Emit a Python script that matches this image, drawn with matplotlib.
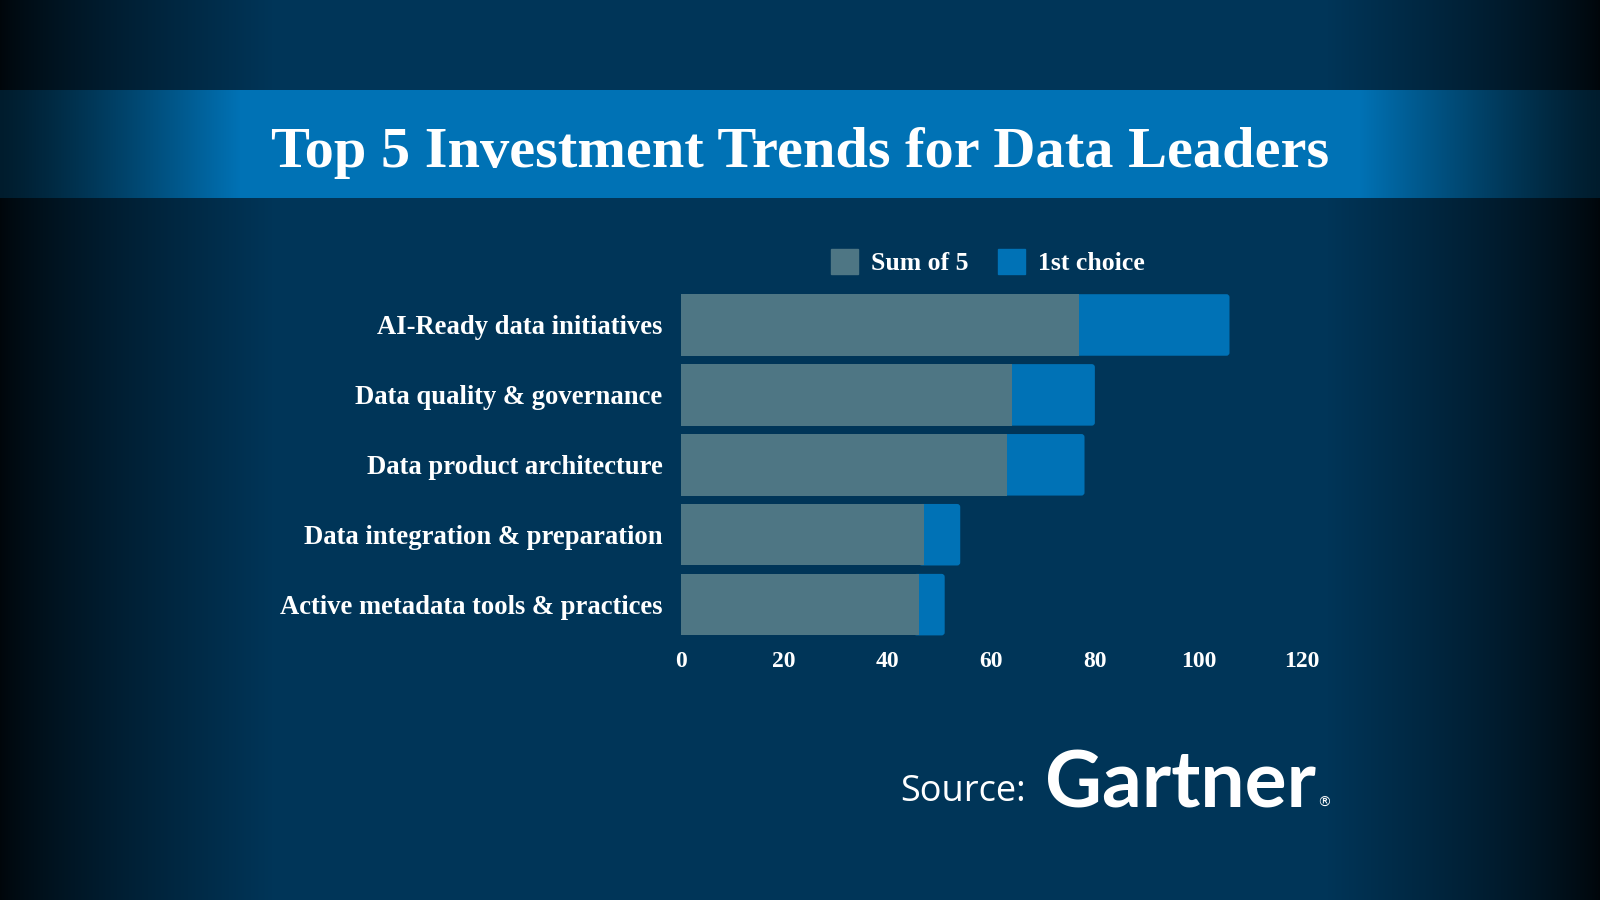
import numpy as np
import matplotlib
matplotlib.use("Agg")
import matplotlib.pyplot as plt
from matplotlib.patches import Patch, FancyBboxPatch

# ---- data ----
categories = ["AI-Ready data initiatives", "Data quality & governance",
              "Data product architecture", "Data integration & preparation",
              "Active metadata tools & practices"]
sum_of_5 = [77, 64, 63, 47, 46]
first_choice = [29, 16, 15, 7, 5]
xticks = [0, 20, 40, 60, 80, 100, 120]
series_names = ["Sum of 5", "1st choice"]
title = "Top 5 Investment Trends for Data Leaders"

GRAY = "#4E7684"
BLUE = "#0072B6"
BG = np.array([0, 53, 88]) / 255.0
BAND = np.array([0, 114, 181]) / 255.0
SERIF = "Liberation Serif"

fig = plt.figure(figsize=(16, 9), dpi=100)

# ---- background with vignette ----
bg_ax = fig.add_axes([0, 0, 1, 1], zorder=-10)
H, W = 900, 1600
xs = np.linspace(0, 1, W)
ys = np.linspace(0, 1, H)
X, Y = np.meshgrid(xs, ys)
edge = np.minimum(X, 1 - X)
dark = np.clip(edge / 0.17, 0, 1) ** 0.8
factor = 0.12 + 0.88 * dark
img = np.ones((H, W, 3)) * BG
img = img * factor[..., None]
band = (Y * 900 >= 90) & (Y * 900 <= 198)
bfac = np.clip(edge / 0.15, 0, 1) ** 1.2
band_img = BAND[None, None, :] * (0.25 + 0.75 * bfac[..., None])
img[band] = band_img[band]
bg_ax.imshow(img, aspect="auto", extent=[0, 1, 1, 0])
bg_ax.set_xlim(0, 1)
bg_ax.set_ylim(1, 0)
bg_ax.axis("off")

fig.text(0.5, 1 - 153 / 900, title, ha="center", va="center", color="white",
         fontsize=42, fontweight="bold", family=SERIF)

# ---- chart ----
ax = fig.add_axes([680.6 / 1600, 1 - 639.6 / 900, (1302 - 680.6) / 1600, 349.6 / 900])
ax.set_facecolor("none")
y = np.arange(len(categories))
b1 = ax.barh(y, sum_of_5, height=0.88, color=GRAY, label=series_names[0], zorder=3)
b2 = ax.barh(y, first_choice, left=sum_of_5, height=0.88, color=BLUE, label=series_names[1], zorder=2)
# give the blue segments slightly rounded right ends
for r in b2.patches:
    x0, y0, w, h = r.get_x(), r.get_y(), r.get_width(), r.get_height()
    r.set_visible(False)
    ax.add_patch(FancyBboxPatch((x0 - 1, y0), w + 1, h,
                                boxstyle="round,pad=0,rounding_size=0.6",
                                mutation_aspect=0.072, facecolor=BLUE,
                                edgecolor="none", zorder=2))
ax.set_xlim(0, 120)
ax.set_ylim(len(categories) - 0.5, -0.5)
ax.set_xticks(xticks)
ax.set_xticklabels([str(t) for t in xticks])
ax.set_yticks(y)
ax.set_yticklabels(categories)
for lab in ax.get_yticklabels():
    lab.set_family(SERIF)
    lab.set_fontweight("bold")
    lab.set_fontsize(19.2)
    lab.set_color("white")
for lab in ax.get_xticklabels():
    lab.set_family(SERIF)
    lab.set_fontweight("bold")
    lab.set_fontsize(17)
    lab.set_color("white")
ax.tick_params(axis="both", length=0)
ax.tick_params(axis="y", pad=13)
ax.tick_params(axis="x", pad=8)
for s in ax.spines.values():
    s.set_visible(False)

leg = fig.legend(handles=[Patch(color=GRAY), Patch(color=BLUE)], labels=series_names,
                 loc="center left", bbox_to_anchor=(808 / 1600, 1 - 262 / 900),
                 ncol=2, frameon=False, handlelength=1.05, handleheight=1.15,
                 handletextpad=0.5, columnspacing=1.15,
                 prop={"family": SERIF, "weight": "bold", "size": 18.5})
for t in leg.get_texts():
    t.set_color("white")

# ---- source ----
fig.text(1026 / 1600, 1 - 792 / 900, "Source:", ha="right", va="center", color="white",
         fontsize=26, family="Open Sans")
g = fig.text(1045 / 1600, 1 - 807 / 900, "Gartner", ha="left", va="baseline", color="white",
             fontsize=56.5, fontweight="bold", family="Lato")
fig.canvas.draw()
gx1 = g.get_window_extent().x1
fig.text((gx1 + 1) / 1600, 1 - 807 / 900, "®", ha="left", va="baseline", color="white",
         fontsize=10, family="DejaVu Sans")

fig.savefig("out.png", dpi=100, facecolor=fig.get_facecolor())
